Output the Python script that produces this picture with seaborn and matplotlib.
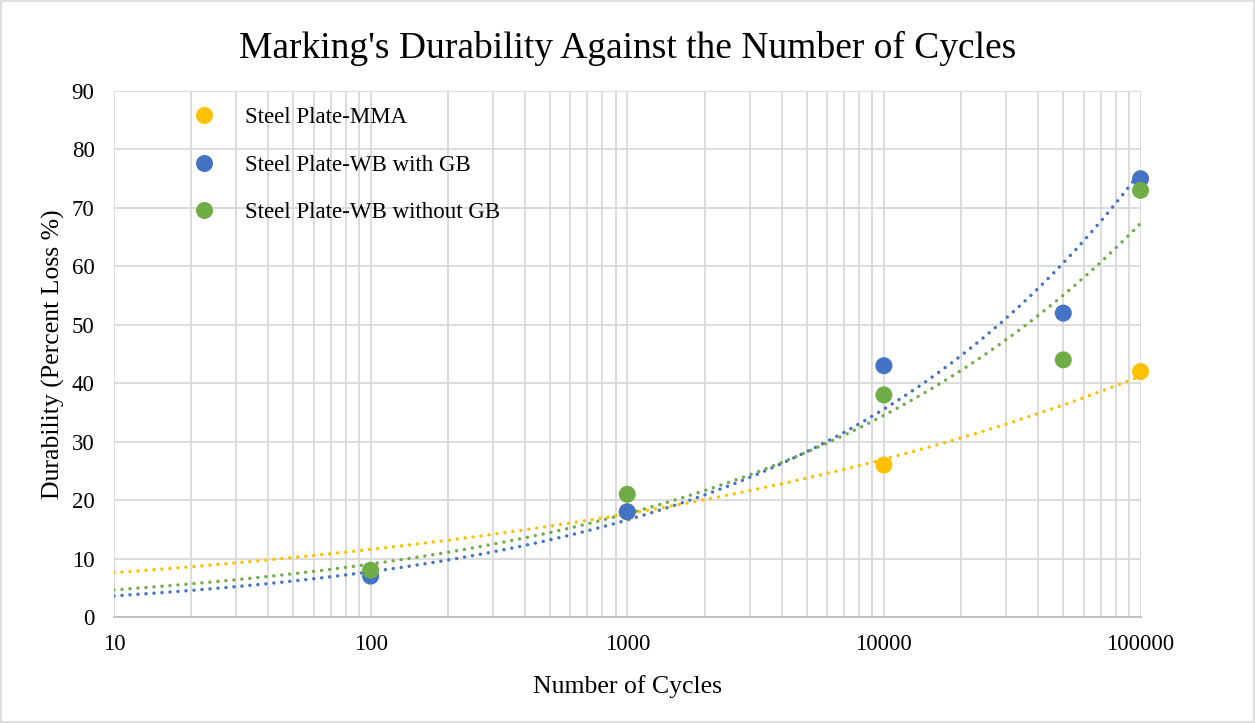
import numpy as np
import pandas as pd
import matplotlib
matplotlib.use('Agg')
import matplotlib.pyplot as plt
from matplotlib.ticker import FixedLocator, FixedFormatter, LogLocator, NullFormatter
import seaborn as sns

# data
cycles_mma = [1000, 10000, 100000]
loss_mma = [18, 26, 42]
cycles_wb = [100, 1000, 10000, 50000, 100000]
loss_wb_gb = [7, 18, 43, 52, 75]
loss_wb_nogb = [8, 21, 38, 44, 73]

series_names = ['Steel Plate-MMA', 'Steel Plate-WB with GB', 'Steel Plate-WB without GB']
colors = ['#FFC000', '#4472C4', '#70AD47']

df = pd.concat([
    pd.DataFrame({'Cycles': cycles_mma, 'Loss': loss_mma, 'Series': series_names[0]}),
    pd.DataFrame({'Cycles': cycles_wb, 'Loss': loss_wb_gb, 'Series': series_names[1]}),
    pd.DataFrame({'Cycles': cycles_wb, 'Loss': loss_wb_nogb, 'Series': series_names[2]}),
])

sns.set_style('white')
plt.rcParams['font.family'] = ['Liberation Serif', 'DejaVu Serif']
plt.rcParams['text.color'] = 'black'

fig = plt.figure(figsize=(12.55, 7.23), dpi=100)
ax = fig.add_axes([0.0908, 0.1466, 0.818, 0.7275])

# power trendlines (Excel style), fitted in log-log space
xs = np.logspace(1, 5, 200)
for name, c in zip(series_names, colors):
    sub = df[df['Series'] == name]
    b, a = np.polyfit(np.log(sub['Cycles']), np.log(sub['Loss']), 1)
    ax.plot(xs, np.exp(a) * xs ** b, color=c, lw=2.5,
            linestyle=(0, (0.01, 2.3)), dash_capstyle='round', zorder=2)

sns.scatterplot(data=df, x='Cycles', y='Loss', hue='Series', palette=colors,
                s=150, edgecolor='none', ax=ax, zorder=3, clip_on=False)

ax.set_xscale('log')
ax.set_xlim(10, 100000)
ax.set_ylim(0, 90)
ax.set_yticks(range(0, 91, 10))
ax.xaxis.set_major_locator(FixedLocator([10, 100, 1000, 10000, 100000]))
ax.xaxis.set_major_formatter(FixedFormatter(['10', '100', '1000', '10000', '100000']))
ax.xaxis.set_minor_locator(LogLocator(base=10, subs=np.arange(2, 10)))
ax.xaxis.set_minor_formatter(NullFormatter())

ax.grid(True, which='both', axis='x', color='#D9D9D9', lw=1.3)
ax.grid(True, which='major', axis='y', color='#D9D9D9', lw=1.3)
ax.set_axisbelow(True)
for s in ['top', 'right', 'left']:
    ax.spines[s].set_visible(False)
ax.spines['bottom'].set_color('#BFBFBF')
ax.spines['bottom'].set_linewidth(1.3)
ax.tick_params(axis='both', which='both', length=0, labelsize=16.5, colors='black')
ax.tick_params(axis='x', pad=12)
ax.tick_params(axis='y', pad=14)

ax.set_xlabel('Number of Cycles', fontsize=18.5, labelpad=15, color='black')
ax.set_ylabel('Durability (Percent Loss %)', fontsize=18.5, labelpad=5, color='black')
fig.suptitle("Marking's Durability Against the Number of Cycles", fontsize=27, y=0.958, color='black')

leg = ax.legend(loc='upper left', bbox_to_anchor=(0.045, 1.008), frameon=False,
                fontsize=16.5, labelspacing=1.15, handletextpad=0.8, markerscale=1.0)
for t in leg.get_texts():
    t.set_color('black')

# light frame around the figure
fig.patches.append(plt.Rectangle((0.001, 0.001), 0.998, 0.997, transform=fig.transFigure,
                                 fill=False, edgecolor='#D9D9D9', lw=1.2))

fig.savefig('out.png', dpi=100)
